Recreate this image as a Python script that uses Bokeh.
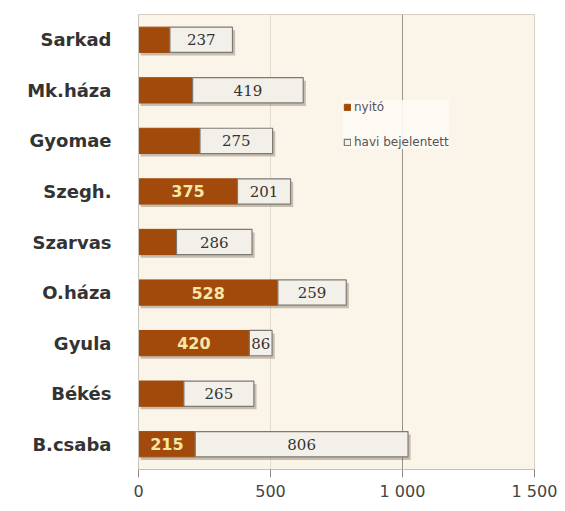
from bokeh.plotting import figure
from bokeh.models import (ColumnDataSource, FactorRange, FixedTicker, Grid, Legend,
                          LegendItem, LabelSet)
from bokeh.core.properties import value
from bokeh.transform import dodge
from bokeh.embed import file_html
from bokeh.resources import INLINE

# ---- data ----
categories = ["Sarkad", "Mk.háza", "Gyomae", "Szegh.", "Szarvas",
              "O.háza", "Gyula", "Békés", "B.csaba"]
nyito = [119, 205, 233, 375, 144, 528, 420, 172, 215]
havi = [237, 419, 275, 201, 286, 259, 86, 265, 806]
nyito_labels = ["", "", "", "375", "", "528", "420", "", "215"]
havi_labels = ["237", "419", "275", "201", "286", "259", "86", "265", "806"]
x_ticks = [0, 500, 1000, 1500]
x_tick_labels = ["0", "500", "1 000", "1 500"]

total = [a + b for a, b in zip(nyito, havi)]
src = ColumnDataSource(dict(
    cat=categories, nyito=nyito, havi=havi, total=total,
    zero=[0] * len(categories),
    nyito_mid=[a / 2 for a in nyito],
    havi_mid=[a + b / 2 for a, b in zip(nyito, havi)],
    nyito_lab=nyito_labels, havi_lab=havi_labels,
))

BROWN = "#a14a0c"

p = figure(width=557, height=503, output_backend="svg", toolbar_location=None,
           y_range=FactorRange(factors=list(reversed(categories))),
           x_range=(x_ticks[0], x_ticks[-1]),
           min_border_left=138, min_border_right=23, min_border_top=14,
           min_border_bottom=32)
p.background_fill_color = "#fbf4e8"
p.border_fill_color = "white"
p.outline_line_color = "#d8cfc0"

# grids
p.xgrid.visible = False
p.ygrid.visible = False
g1 = Grid(dimension=0, ticker=FixedTicker(ticks=x_ticks[1:2]), grid_line_color="#e6dccb")
g2 = Grid(dimension=0, ticker=FixedTicker(ticks=x_ticks[2:]), grid_line_color="#9a938a")
p.add_layout(g1, "center")
p.add_layout(g2, "center")

# shadows
sh_y = dodge("cat", -0.06, range=p.y_range)
p.hbar(y=sh_y, left=dodge("zero", 8), right=dodge("total", 10), height=0.5,
       source=src, fill_color="#6b5a48", fill_alpha=0.35, line_color=None)

# bars
r_ny = p.hbar(y="cat", left="zero", right="nyito", height=0.5, source=src,
              fill_color=BROWN, line_color=BROWN)
r_hv = p.hbar(y="cat", left="nyito", right="total", height=0.5, source=src,
              fill_color="#f3f0e9", line_color="#7d7a76", line_width=1.2)

# labels
p.add_layout(LabelSet(x="nyito_mid", y="cat", text="nyito_lab", source=src,
                      text_align="center", text_baseline="middle",
                      text_color="#f6e7a4", text_font=value("DejaVu Sans"),
                      text_font_style="bold", text_font_size="16px"))
p.add_layout(LabelSet(x="havi_mid", y="cat", text="havi_lab", source=src,
                      text_align="center", text_baseline="middle",
                      text_color="#333333", text_font=value("DejaVu Serif"),
                      text_font_size="15px"))

# axes
p.xaxis.ticker = FixedTicker(ticks=x_ticks)
p.xaxis.major_label_overrides = {t: l for t, l in zip(x_ticks, x_tick_labels)}
p.xaxis.axis_line_color = "#c9c0b2"
p.xaxis.major_tick_line_color = "#8f8a84"
p.xaxis.major_tick_out = 8
p.xaxis.major_tick_in = 0
p.xaxis.minor_tick_line_color = None
p.xaxis.major_label_standoff = 4
p.xaxis.major_label_text_font = "DejaVu Sans"
p.xaxis.major_label_text_font_size = "16px"
p.xaxis.major_label_text_color = "#444444"

p.yaxis.axis_line_color = "#c9c4bc"
p.yaxis.major_tick_line_color = None
p.yaxis.major_tick_out = 0
p.yaxis.major_label_standoff = 27
p.yaxis.major_label_text_font = "DejaVu Sans"
p.yaxis.major_label_text_font_style = "bold"
p.yaxis.major_label_text_font_size = "18px"
p.yaxis.major_label_text_color = "#333333"

legend = Legend(items=[LegendItem(label="nyitó", renderers=[r_ny]),
                       LegendItem(label="havi bejelentett", renderers=[r_hv])],
                location=(205, 320), glyph_width=8, glyph_height=8,
                label_height=12, spacing=21, padding=10, label_standoff=3,
                label_text_font="DejaVu Sans", label_text_font_size="12px",
                label_text_color="#555555", background_fill_color="#fdfaf4",
                background_fill_alpha=0.9, border_line_color=None)
p.add_layout(legend, "center")

open("out.html", "w").write(file_html(p, INLINE))
